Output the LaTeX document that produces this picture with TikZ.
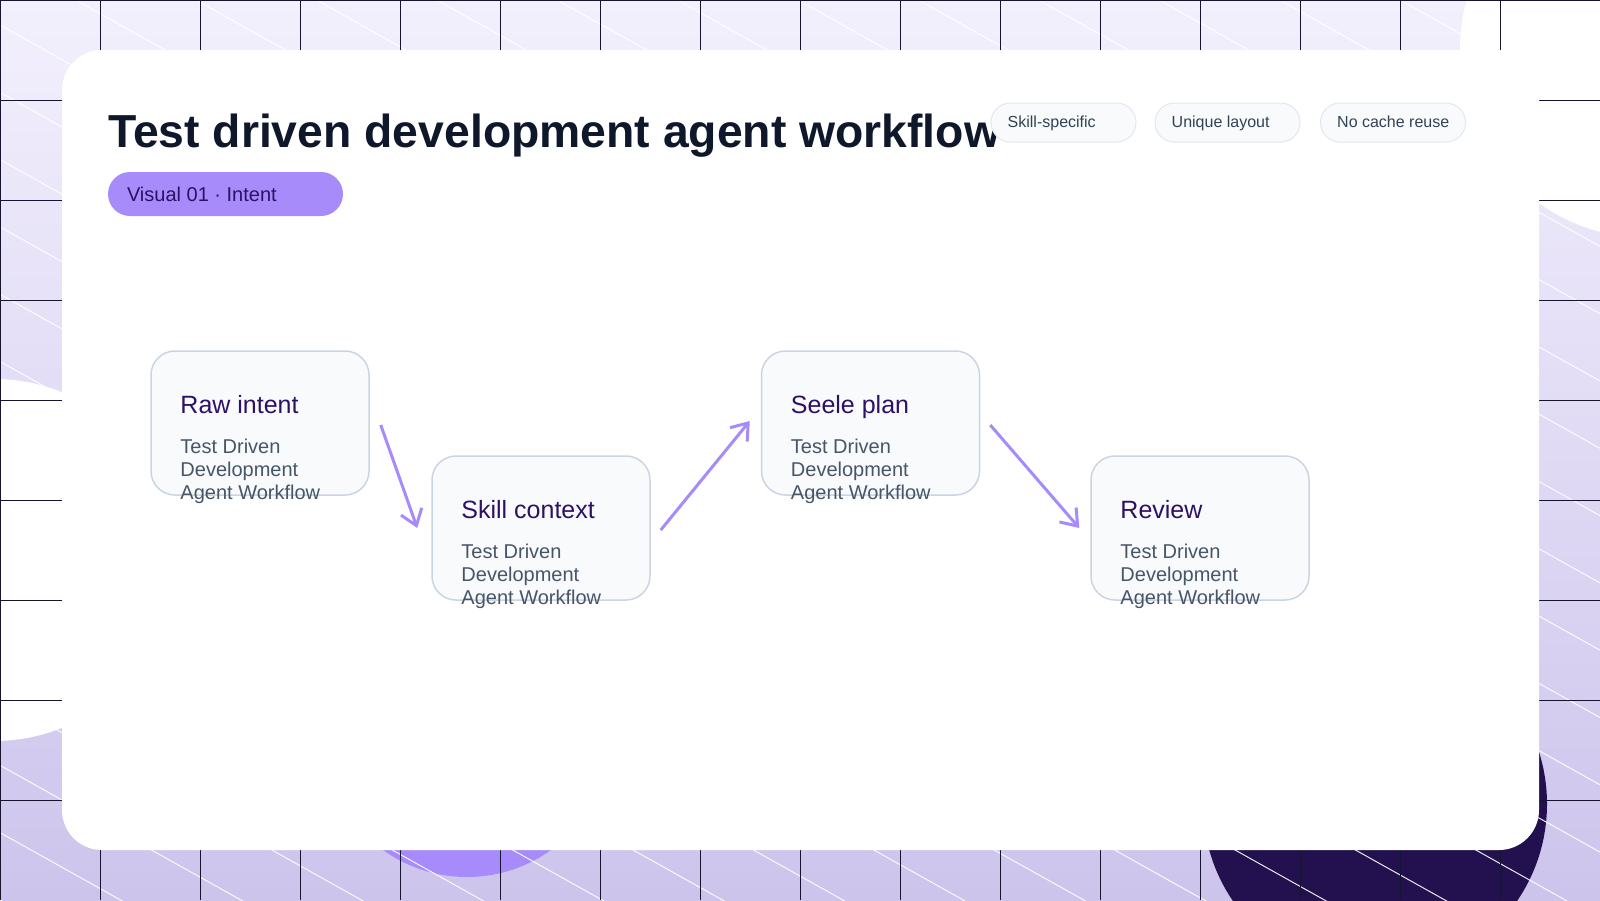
\documentclass[tikz,border=0pt]{standalone}
\usepackage{fontspec}
\setmainfont{Liberation Sans}
\usetikzlibrary{arrows.meta,calc}
\definecolor{bgtop}{HTML}{F3F0FD}
\definecolor{bgbot}{HTML}{CDC4EC}
\definecolor{gridc}{HTML}{15152F}
\definecolor{accent}{HTML}{A78BFA}
\definecolor{darkblob}{HTML}{23104F}
\definecolor{titlec}{HTML}{0F172A}
\definecolor{chipfill}{HTML}{F8FAFC}
\definecolor{chipline}{HTML}{E2E8F0}
\definecolor{chiptextc}{HTML}{334155}
\definecolor{boxfill}{HTML}{F8FAFC}
\definecolor{boxline}{HTML}{CBD5E1}
\definecolor{boxtitlec}{HTML}{2E1065}
\definecolor{boxsubc}{HTML}{475569}
\begin{document}
\begin{tikzpicture}[x=1pt,y=-1pt,
  gridline/.style={draw=gridc,line width=1.3pt},
  hatch/.style={draw=white,line width=1pt,opacity=0.9},
  chip/.style={draw=chipline,fill=chipfill,line width=1pt,rounded corners=19.5pt,minimum width=145pt,minimum height=39pt,inner sep=0pt},
  chiptext/.style={anchor=base west,inner sep=0pt,text=chiptextc,font=\fontsize{16}{19}\selectfont},
  tagpill/.style={fill=accent,rounded corners=22pt,minimum width=235pt,minimum height=44pt,inner sep=0pt},
  tagtext/.style={anchor=base west,inner sep=0pt,text=boxtitlec,font=\fontsize{20}{24}\selectfont},
  stepbox/.style={draw=boxline,fill=boxfill,line width=1.5pt,rounded corners=24pt,minimum width=218pt,minimum height=144pt,inner sep=0pt},
  boxtitle/.style={anchor=base west,inner sep=0pt,text=boxtitlec,font=\fontsize{25}{30}\selectfont},
  boxsub/.style={anchor=base west,inner sep=0pt,text=boxsubc,align=left,font=\fontsize{20}{23}\selectfont},
  flow/.style={draw=accent,line width=3pt,-{Straight Barb[length=15pt,width=22pt]}}
]
\useasboundingbox (0,0) rectangle (1600,900);
\begin{scope}
  \clip (0,0) rectangle (1600,900);
  \shade[top color=bgtop,bottom color=bgbot] (0,0) rectangle (1600,900);
  \fill[white] (1648,50) circle[radius=188];
  \fill[white] (-6,560) circle[radius=181];
  \fill[accent] (467,733) circle[radius=144];
  \fill[darkblob] (1375,804) circle[radius=172];
  \foreach \k in {-14,...,13}
    \draw[hatch] (0,{25+67.3*\k}) -- (1600,{25+67.3*\k+894.4});
  \foreach \i in {0,...,15}
    \draw[gridline] ({\i*100+0.6},0) -- ({\i*100+0.6},900);
  \foreach \j in {0,...,8}
    \draw[gridline] (0,{\j*100+0.6}) -- (1600,{\j*100+0.6});
\end{scope}
% card
\fill[white,rounded corners=40pt] (62,50) rectangle (1539,850);
% title
\node[anchor=base west,inner sep=0pt,text=titlec,font=\fontsize{46.3}{55}\selectfont\bfseries] (title) at (108,147) {Test driven development agent workflow};
% tag pill
\node[tagpill] (tag) at (225.5,194) {};
\node[tagtext] (tagt) at ([shift={(19,7)}]tag.west) {Visual 01 · Intent};
% chips
\node[chip] (c1) at (1063.5,122.5) {};
\node[chiptext] (c1t) at ([shift={(17,5)}]c1.west) {Skill-specific};
\node[chip] (c2) at (1227.5,122.5) {};
\node[chiptext] (c2t) at ([shift={(17,5)}]c2.west) {Unique layout};
\node[chip] (c3) at (1393,122.5) {};
\node[chiptext] (c3t) at ([shift={(17,5)}]c3.west) {No cache reuse};
% boxes
\node[stepbox] (b1) at (260,423) {};
\node[stepbox] (b2) at (541,528) {};
\node[stepbox] (b3) at (870.5,423) {};
\node[stepbox] (b4) at (1200,528) {};
\node[boxtitle] (b1t) at ([shift={(30,63)}]b1.north west) {Raw intent};
\node[boxsub] (b1s) at ([shift={(30,149)}]b1.north west) {Test Driven\\Development\\Agent Workflow};
\node[boxtitle] (b2t) at ([shift={(30,63)}]b2.north west) {Skill context};
\node[boxsub] (b2s) at ([shift={(30,149)}]b2.north west) {Test Driven\\Development\\Agent Workflow};
\node[boxtitle] (b3t) at ([shift={(30,63)}]b3.north west) {Seele plan};
\node[boxsub] (b3s) at ([shift={(30,149)}]b3.north west) {Test Driven\\Development\\Agent Workflow};
\node[boxtitle] (b4t) at ([shift={(30,63)}]b4.north west) {Review};
\node[boxsub] (b4s) at ([shift={(30,149)}]b4.north west) {Test Driven\\Development\\Agent Workflow};
% connectors
\draw[flow] ([shift={(11,2)}]b1.east) -- ([shift={(-14,0)}]b2.west);
\draw[flow] ([shift={(10,2)}]b2.east) -- ([shift={(-11,-2)}]b3.west);
\draw[flow] ([shift={(10,2)}]b3.east) -- ([shift={(-11,0)}]b4.west);
\end{tikzpicture}
\end{document}
